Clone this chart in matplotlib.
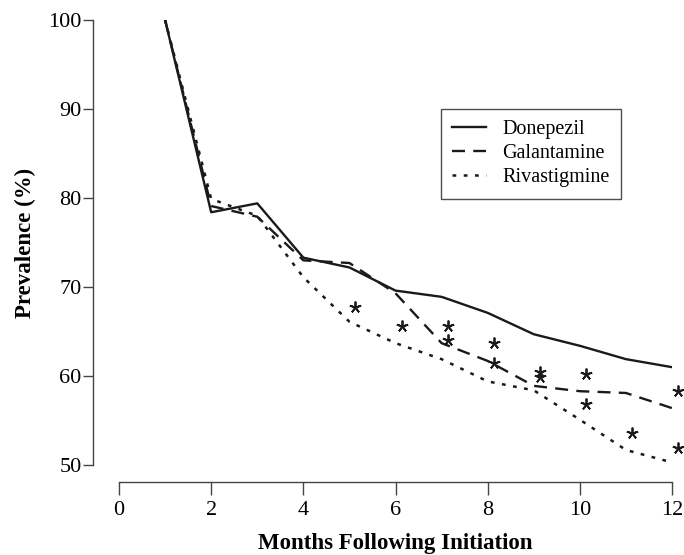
import matplotlib
matplotlib.use("Agg")
import matplotlib.pyplot as plt
import matplotlib.transforms as mtransforms

# --- data ---
months = [1, 2, 3, 4, 5, 6, 7, 8, 9, 10, 11, 12]
donepezil = [100, 78.4, 79.4, 73.3, 72.2, 69.6, 68.9, 67.1, 64.7, 63.4, 61.9, 61.0]
galantamine = [100, 79.1, 77.9, 73.0, 72.7, 69.3, 63.7, 61.7, 58.9, 58.3, 58.1, 56.4]
rivastigmine = [100, 79.9, 78.0, 71.1, 66.1, 63.7, 61.9, 59.4, 58.4, 55.1, 51.7, 50.3]

star_months = [5, 6, 7, 7, 8, 8, 9, 9, 10, 10, 11, 12, 12]
star_vals = [67.8, 65.6, 65.6, 64.1, 63.7, 61.5, 60.5, 59.9, 60.2, 56.9, 53.6, 58.3, 51.9]

x_ticks = [0, 2, 4, 6, 8, 10, 12]
y_ticks = [50, 60, 70, 80, 90, 100]

plt.rcParams['font.family'] = ['Liberation Serif', 'DejaVu Serif']

fig = plt.figure(figsize=(6.84, 5.55), dpi=100)
ax = fig.add_axes([0.174, 0.162, 0.8085, 0.802])

lc = "#1a1a1a"
ax.plot(months, donepezil, color=lc, lw=1.7, ls='-', label='Donepezil')
ax.plot(months, galantamine, color=lc, lw=1.7, ls=(0, (5.5, 3.5)), label='Galantamine')
ax.plot(months, rivastigmine, color=lc, lw=1.8, ls=(0, (1.5, 3.0)), label='Rivastigmine')

# asterisks sit a little to the right of each month
shift = mtransforms.ScaledTranslation(6 / 100, 0, fig.dpi_scale_trans)
ax.plot(star_months, star_vals, ls='none', marker=(5, 2, 0), ms=8.5, mew=1.3,
        color=lc, transform=ax.transData + shift, clip_on=False)

ax.set_xlim(0, 12)
ax.set_ylim(50, 100)
ax.set_xticks(x_ticks)
ax.set_yticks(y_ticks)

for s in ['top', 'right']:
    ax.spines[s].set_visible(False)
ax.spines['left'].set_position(('outward', 18.5))
ax.spines['bottom'].set_position(('outward', 12))
for s in ['left', 'bottom']:
    ax.spines[s].set_color('#444444')
    ax.spines[s].set_linewidth(1.0)

ax.tick_params(axis='y', direction='out', length=7, width=1, color='#444444',
               labelsize=16, pad=1.5)
ax.tick_params(axis='x', direction='out', length=9.5, width=1, color='#444444',
               labelsize=16, pad=4.5)

ax.set_xlabel('Months Following Initiation', fontsize=16.5, fontweight='bold', labelpad=9)
ax.set_ylabel('Prevalence (%)', fontsize=16.5, fontweight='bold', labelpad=9)

leg = ax.legend(loc='upper left', bbox_to_anchor=(0.582, 0.80), fontsize=14.5,
                frameon=True, fancybox=False, handlelength=1.7, handletextpad=0.8,
                borderpad=0.55, labelspacing=0.25, borderaxespad=0)
leg.get_frame().set_edgecolor('#222222')
leg.get_frame().set_linewidth(1.0)

fig.savefig('out.png', dpi=100)
